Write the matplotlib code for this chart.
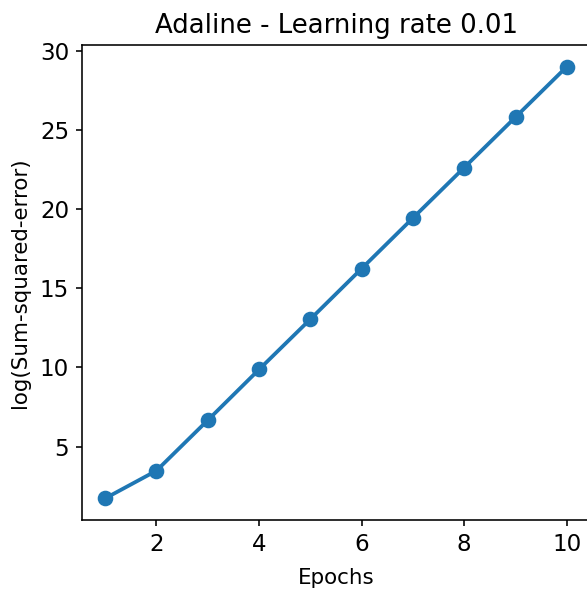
import matplotlib
matplotlib.use("Agg")
import matplotlib.pyplot as plt

# Adaline training, learning rate 0.01
epochs = [1, 2, 3, 4, 5, 6, 7, 8, 9, 10]
log_sse = [1.72, 3.47, 6.66, 9.87, 13.05, 16.25, 19.45, 22.64, 25.83, 29.02]

fig = plt.figure(figsize=(587 / 144, 594 / 144), dpi=144)
# the reference is cropped, so the right spine sits just outside the image
ax = fig.add_axes([82 / 587, 74 / 594, 508 / 587, 475 / 594])
ax.plot(epochs, log_sse, marker='o', linewidth=1.9, markersize=6.8)
ax.set_title('Adaline - Learning rate 0.01', fontsize=13)
ax.set_xlabel('Epochs', fontsize=10.7, labelpad=6)
ax.set_ylabel('log(Sum-squared-error)', fontsize=10.7, labelpad=5)
ax.set_xticks([2, 4, 6, 8, 10])
ax.set_yticks([5, 10, 15, 20, 25, 30])
ax.tick_params(labelsize=11.5, length=3)

fig.savefig("out.png", dpi=144)
plt.close(fig)
